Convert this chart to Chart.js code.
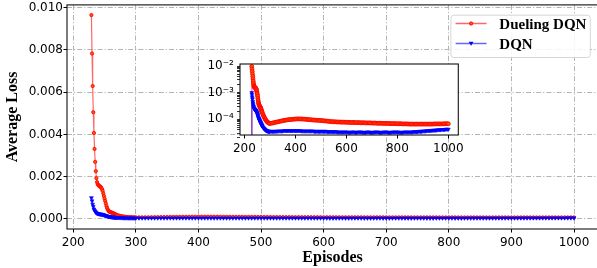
<!DOCTYPE html>
<html><head><meta charset="utf-8">
<script src="https://cdn.jsdelivr.net/npm/chart.js@4.4.0/dist/chart.umd.min.js"></script>
<style>
html,body{margin:0;padding:0;background:#fff;overflow:hidden;width:597px;height:268px}
#wrap{position:relative;width:597px;height:268px;overflow:hidden}
#main{position:absolute;left:0;top:0;width:603px;height:268px}
#inset{position:absolute;left:195px;top:56px;width:270px;height:100px}
</style></head><body>
<div id="wrap"><canvas id="main" width="603" height="268"></canvas><canvas id="inset" width="270" height="100"></canvas></div>
<script>
// ---------- data ----------
const episodes = [
 229,230,231,232,233,234,235,236,237,238,
 239,240,241,242,243,244,245,246,247,248,
 249,250,251,252,253,254,255,256,257,258,
 259,260,261,262,263,264,265,266,267,268,
 269,270,
 272,274,276,278,280,282,284,286,288,290,292,294,296,298,300,
 305,310,315,320,325,330,335,340,345,350,
 355,360,365,370,375,380,385,390,395,400,
 405,410,415,420,425,430,435,440,445,450,
 455,460,465,470,475,480,485,490,495,500,
 505,510,515,520,525,530,535,540,545,550,
 555,560,565,570,575,580,585,590,595,600,
 605,610,615,620,625,630,635,640,645,650,
 655,660,665,670,675,680,685,690,695,700,
 705,710,715,720,725,730,735,740,745,750,
 755,760,765,770,775,780,785,790,795,800,
 805,810,815,820,825,830,835,840,845,850,
 855,860,865,870,875,880,885,890,895,900,
 905,910,915,920,925,930,935,940,945,950,
 955,960,965,970,975,980,985,990,995,1000
];
const duelingLoss = [
 0.00965,0.00783,0.00629,0.00505,0.00407,0.00331,0.00270,0.00226,0.00193,0.00174,
 0.00165,0.00160,0.00157,0.00155,0.00153,0.00150,0.00146,0.00140,0.00132,0.00120,
 0.00108,0.00096,0.00085,0.00073,0.00061,0.00052,0.00045,0.00040,0.00036,0.00034,
 0.00032,0.00031,0.00030,0.00029,0.00028,0.00026,0.00025,0.00023,0.00022,0.00020,
 0.00019,0.00018,
 0.00016,0.000145,0.000132,0.00012,0.00011,0.000102,0.000095,0.000089,0.000084,0.00008,0.000077,0.000074,0.000072,0.000071,0.00007,
 7.1e-5,7.2e-5,7.4e-5,7.6e-5,7.8e-5,8.0e-5,8.2e-5,8.4e-5,8.6e-5,8.8e-5,
 9.0e-5,9.2e-5,9.4e-5,9.5e-5,9.7e-5,9.8e-5,9.9e-5,10.0e-5,10.1e-5,10.2e-5,
 10.3e-5,10.3e-5,10.3e-5,10.3e-5,10.2e-5,10.2e-5,10.1e-5,10.0e-5,9.9e-5,9.8e-5,
 9.7e-5,9.6e-5,9.5e-5,9.4e-5,9.3e-5,9.3e-5,9.2e-5,9.2e-5,9.1e-5,9.0e-5,
 8.9e-5,8.8e-5,8.7e-5,8.6e-5,8.5e-5,8.4e-5,8.3e-5,8.2e-5,8.1e-5,8.1e-5,
 8.0e-5,8.0e-5,7.9e-5,7.9e-5,7.9e-5,7.8e-5,7.8e-5,7.8e-5,7.8e-5,7.7e-5,
 7.7e-5,7.7e-5,7.6e-5,7.6e-5,7.6e-5,7.6e-5,7.5e-5,7.5e-5,7.5e-5,7.5e-5,
 7.4e-5,7.4e-5,7.4e-5,7.4e-5,7.3e-5,7.3e-5,7.3e-5,7.3e-5,7.3e-5,7.2e-5,
 7.2e-5,7.2e-5,7.2e-5,7.1e-5,7.1e-5,7.1e-5,7.1e-5,7.1e-5,7.0e-5,7.0e-5,
 7.0e-5,7.0e-5,7.0e-5,6.9e-5,6.9e-5,6.9e-5,6.9e-5,6.9e-5,6.8e-5,6.8e-5,
 6.8e-5,6.8e-5,6.8e-5,6.7e-5,6.7e-5,6.7e-5,6.7e-5,6.7e-5,6.6e-5,6.6e-5,
 6.6e-5,6.6e-5,6.6e-5,6.6e-5,6.6e-5,6.6e-5,6.6e-5,6.6e-5,6.6e-5,6.6e-5,
 6.6e-5,6.6e-5,6.6e-5,6.6e-5,6.6e-5,6.6e-5,6.6e-5,6.6e-5,6.7e-5,6.7e-5,
 6.7e-5,6.7e-5,6.7e-5,6.7e-5,6.7e-5,6.7e-5,6.8e-5,6.8e-5,6.8e-5,6.8e-5
];
const dqnLoss = [
 0.00100,0.00085,0.00069,0.00058,0.00046,0.00040,0.00035,0.00031,0.00028,0.00026,
 0.00025,0.00024,0.00023,0.00023,0.00022,0.00022,0.00021,0.00021,0.00020,0.00019,
 0.00018,0.00017,0.00016,0.00015,0.00014,0.00013,0.00012,0.00011,0.000105,0.00010,
 0.000095,0.00009,0.000086,0.000082,0.000078,0.000074,0.00007,0.000067,0.000064,0.000061,
 0.000058,0.000056,
 0.000052,0.000049,0.000046,0.000044,0.000042,0.00004,0.000039,0.000038,0.000037,0.000036,0.000036,0.000035,0.000035,0.000035,0.000035,
 3.5e-5,3.5e-5,3.5e-5,3.5e-5,3.5e-5,3.6e-5,3.6e-5,3.6e-5,3.6e-5,3.6e-5,
 3.7e-5,3.7e-5,3.7e-5,3.7e-5,3.7e-5,3.7e-5,3.7e-5,3.7e-5,3.7e-5,3.7e-5,
 3.7e-5,3.7e-5,3.7e-5,3.7e-5,3.6e-5,3.6e-5,3.6e-5,3.6e-5,3.6e-5,3.6e-5,
 3.6e-5,3.6e-5,3.6e-5,3.6e-5,3.5e-5,3.5e-5,3.5e-5,3.5e-5,3.5e-5,3.5e-5,
 3.5e-5,3.5e-5,3.5e-5,3.5e-5,3.4e-5,3.4e-5,3.4e-5,3.4e-5,3.4e-5,3.4e-5,
 3.4e-5,3.4e-5,3.3e-5,3.3e-5,3.3e-5,3.3e-5,3.3e-5,3.3e-5,3.3e-5,3.3e-5,
 3.3e-5,3.2e-5,3.2e-5,3.3e-5,3.3e-5,3.3e-5,3.2e-5,3.2e-5,3.3e-5,3.3e-5,
 3.3e-5,3.3e-5,3.2e-5,3.2e-5,3.2e-5,3.3e-5,3.3e-5,3.3e-5,3.2e-5,3.2e-5,
 3.2e-5,3.3e-5,3.3e-5,3.3e-5,3.3e-5,3.2e-5,3.2e-5,3.2e-5,3.3e-5,3.3e-5,
 3.3e-5,3.3e-5,3.2e-5,3.2e-5,3.2e-5,3.3e-5,3.3e-5,3.3e-5,3.3e-5,3.3e-5,
 3.3e-5,3.2e-5,3.2e-5,3.2e-5,3.3e-5,3.3e-5,3.3e-5,3.3e-5,3.3e-5,3.3e-5,
 3.3e-5,3.3e-5,3.4e-5,3.4e-5,3.4e-5,3.4e-5,3.5e-5,3.5e-5,3.5e-5,3.6e-5,
 3.6e-5,3.6e-5,3.7e-5,3.7e-5,3.7e-5,3.8e-5,3.8e-5,3.8e-5,3.9e-5,3.9e-5,
 3.9e-5,4.0e-5,4.0e-5,4.0e-5,4.1e-5,4.1e-5,4.1e-5,4.2e-5,4.2e-5,4.2e-5
];
const seriesNames = ['Dueling DQN', 'DQN'];
const mainXTicks = [200,300,400,500,600,700,800,900,1000];
const mainYTicks = [0,0.002,0.004,0.006,0.008,0.010];
const insetXTicks = [200,400,600,800,1000];
const insetYMajor = [1e-2,1e-3,1e-4];
const insetYMinor = [2e-5,3e-5,4e-5,5e-5,6e-5,7e-5,8e-5,9e-5,2e-4,3e-4,4e-4,5e-4,6e-4,7e-4,8e-4,9e-4,2e-3,3e-3,4e-3,5e-3,6e-3,7e-3,8e-3,9e-3];
const insetYLabels = {'0.01':'10\u207B\u00B2','0.001':'10\u207B\u00B3','0.0001':'10\u207B\u2074'};
// value standing for the clipped zero at the first episode in the log inset
const insetClippedZero = 1e-9;

// ---------- styles ----------
const RED_LINE = 'rgba(255,0,0,0.6)';
const BLUE_LINE = 'rgba(0,0,255,0.6)';
const GRID = '#b4b4b4';
const DASH = [5,2,1.2,2];
const tickFont = {family:'"DejaVu Sans"', size:12};
const titleFont = {family:'"Liberation Serif"', size:16, weight:'bold', lineHeight:1.2};

function pts(xs, ys){ return xs.map((x,i)=>({x:x, y:ys[i]})); }

const frame = {
  id:'frame',
  beforeDraw(chart, args, opts){
    if(opts.fill){ const a=chart.chartArea, c=chart.ctx; c.save(); c.fillStyle='#fff'; c.fillRect(a.left,a.top,a.right-a.left,a.bottom-a.top); c.restore(); }
  },
  afterDatasetsDraw(chart){
    const a=chart.chartArea, c=chart.ctx;
    c.save(); c.strokeStyle='#111'; c.lineWidth=1.1;
    c.strokeRect(a.left,a.top,a.right-a.left,a.bottom-a.top); c.restore();
  }
};

const legendPlugin = {
  id:'customLegend',
  afterDraw(chart){
    const c=chart.ctx, a=chart.chartArea;
    const right=a.right-7.8, left=right-139.4, top=a.top+10.3, h=42.3, r=3;
    c.save();
    c.beginPath();
    c.moveTo(left+r,top); c.lineTo(right-r,top); c.arcTo(right,top,right,top+r,r);
    c.lineTo(right,top+h-r); c.arcTo(right,top+h,right-r,top+h,r);
    c.lineTo(left+r,top+h); c.arcTo(left,top+h,left,top+h-r,r);
    c.lineTo(left,top+r); c.arcTo(left,top,left+r,top,r); c.closePath();
    c.fillStyle='rgba(255,255,255,0.85)'; c.fill();
    c.strokeStyle='#d6d6d6'; c.lineWidth=1; c.stroke();
    const rows=[{y:top+8.3, line:RED_LINE, mk:'circle'},{y:top+28.3, line:BLUE_LINE, mk:'tri'}];
    rows.forEach((rw,i)=>{
      c.strokeStyle=rw.line; c.lineWidth=1.5;
      c.beginPath(); c.moveTo(left+4.7,rw.y); c.lineTo(left+35.7,rw.y); c.stroke();
      const mx=left+20.2;
      if(rw.mk==='circle'){ c.beginPath(); c.arc(mx,rw.y,1.6,0,Math.PI*2); c.fillStyle='#ff5a00'; c.fill(); c.strokeStyle='#ff0000'; c.lineWidth=1; c.stroke(); }
      else { c.beginPath(); c.moveTo(mx-2.4,rw.y-1.8); c.lineTo(mx+2.4,rw.y-1.8); c.lineTo(mx,rw.y+2.2); c.closePath(); c.fillStyle='#0000ff'; c.fill(); }
      c.fillStyle='#000'; c.font='bold 15px "Liberation Serif"'; c.textBaseline='alphabetic'; c.textAlign='left';
      c.fillText(seriesNames[i], left+48.4, rw.y+5);
    });
    c.restore();
  }
};

function redSet(data, r){ return {label:seriesNames[0], data:data, borderColor:RED_LINE, borderWidth:1.2,
  pointRadius:(ctx)=> (ctx.raw && ctx.raw.y===insetClippedZero) ? 0 : r, pointStyle:'circle',
  pointBackgroundColor:'#ff5a00', pointBorderColor:'#ff0000', pointBorderWidth:0.9, order:1}; }
function blueSet(data, r){ return {label:seriesNames[1], data:data, borderColor:BLUE_LINE, borderWidth:1.2,
  pointRadius:(ctx)=> (ctx.raw && ctx.raw.y===insetClippedZero) ? 0 : r, pointStyle:'triangle', pointRotation:180,
  pointBackgroundColor:'#0000ff', pointBorderColor:'#0000ff', pointBorderWidth:0.6, order:0}; }

const common = {
  responsive:false, animation:false, devicePixelRatio:1,
  plugins:{legend:{display:false}, tooltip:{enabled:false}},
  elements:{line:{tension:0}}
};

new Chart(document.getElementById('main'), {
  type:'line',
  data:{datasets:[redSet(pts(episodes,duelingLoss),1.6), blueSet(pts(episodes,dqnLoss),2.2)]},
  options:Object.assign({}, common, {
    layout:{padding:{left:0,top:4.7,right:2.5,bottom:0}},
    plugins:{legend:{display:false}, tooltip:{enabled:false}, frame:{fill:false}},
    scales:{
      x:{type:'linear', min:190, max:1038.5,
        afterBuildTicks(s){ s.ticks = mainXTicks.map(v=>({value:v})); },
        afterFit(s){ s.height=39; s.paddingLeft=0; s.paddingRight=0; },
        ticks:{font:tickFont, color:'#000', padding:3.3, maxRotation:0, autoSkip:false, callback:(v)=>String(v)},
        grid:{color:GRID, lineWidth:1, tickLength:3.5, tickColor:'#000', tickWidth:1},
        border:{display:false, dash:DASH},
        title:{display:true, text:'Episodes', font:titleFont, color:'#000', padding:{top:0,bottom:0.4}}
      },
      y:{type:'linear', min:-0.00048, max:0.01013,
        afterBuildTicks(s){ s.ticks = mainYTicks.map(v=>({value:v})); },
        afterFit(s){ s.width=67; s.paddingTop=0; s.paddingBottom=0; },
        ticks:{font:tickFont, color:'#000', padding:0.5, autoSkip:false, callback:(v)=>Number(v).toFixed(3)},
        grid:{color:GRID, lineWidth:1, tickLength:3.5, tickColor:'#000', tickWidth:1},
        border:{display:false, dash:DASH},
        title:{display:true, text:'Average Loss', font:titleFont, color:'#000', padding:{top:3.7,bottom:0}}
      }
    }
  }),
  plugins:[frame, legendPlugin]
});

const insetRed = [{x:episodes[0], y:insetClippedZero}].concat(pts(episodes,duelingLoss));
const insetBlue = [{x:episodes[0], y:insetClippedZero}].concat(pts(episodes,dqnLoss));

new Chart(document.getElementById('inset'), {
  type:'line',
  data:{datasets:[redSet(insetRed,1.9), blueSet(insetBlue,2.2)]},
  options:Object.assign({}, common, {
    layout:{padding:{left:0,top:8,right:6.7,bottom:0}},
    plugins:{legend:{display:false}, tooltip:{enabled:false}, frame:{fill:true}},
    scales:{
      x:{type:'linear', min:183, max:1039,
        afterBuildTicks(s){ s.ticks = insetXTicks.map(v=>({value:v})); },
        afterFit(s){ s.height=21; s.paddingLeft=0; s.paddingRight=0; },
        ticks:{font:tickFont, color:'#000', padding:3.3, maxRotation:0, autoSkip:false, callback:(v)=>String(v)},
        grid:{drawOnChartArea:false, tickLength:3.5, tickColor:'#000', tickWidth:1},
        border:{display:false}
      },
      y:{type:'logarithmic', min:2.57e-5, max:0.0119,
        afterBuildTicks(s){ s.ticks = insetYMinor.concat(insetYMajor).sort((a,b)=>a-b).map(v=>({value:v})); },
        afterFit(s){ s.width=45; s.paddingTop=0; s.paddingBottom=0; },
        ticks:{font:tickFont, color:'#000', padding:3.2, autoSkip:false, callback:(v)=> insetYLabels[String(v)] || ''},
        grid:{drawOnChartArea:false, tickLength:3, tickColor:'#000', tickWidth:0.8},
        border:{display:false}
      }
    }
  }),
  plugins:[frame]
});
</script>
</body></html>
